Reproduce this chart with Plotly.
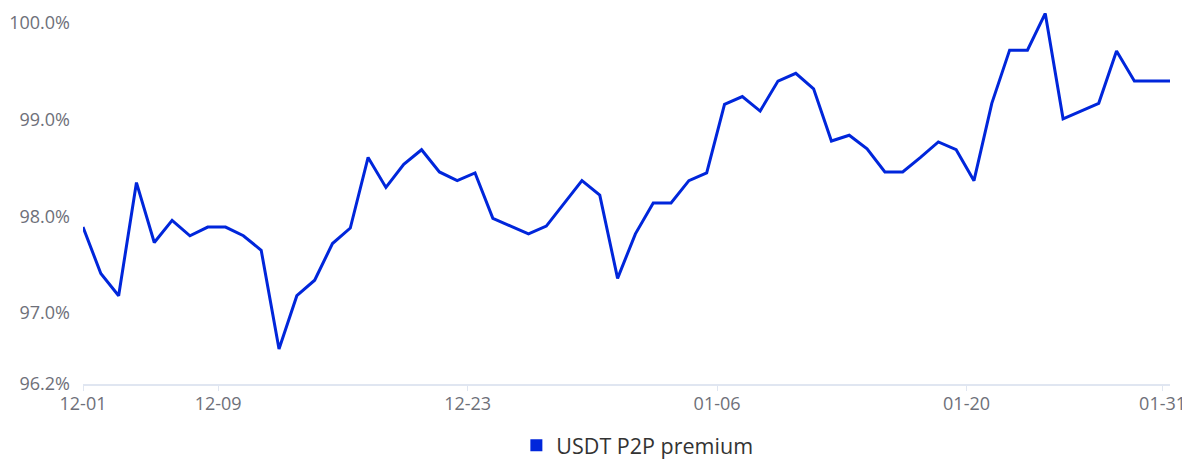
import pandas as pd
import plotly.graph_objects as go

# daily readings, 12-01 .. 01-31 (one per day, around 10:00)
dates = pd.date_range("2024-12-01 10:00", periods=62, freq="D")

premium = [
    97.89, 97.41, 97.18, 98.35, 97.73, 97.96, 97.80, 97.89, 97.89, 97.80,
    97.65, 96.63, 97.18, 97.34, 97.72, 97.88, 98.61, 98.30, 98.54, 98.69,
    98.46, 98.37, 98.45, 97.98, 97.90, 97.82, 97.90, 98.14, 98.37, 98.22,
    97.36, 97.82, 98.14, 98.14, 98.37, 98.45, 99.16, 99.24, 99.09, 99.40,
    99.48, 99.32, 98.78, 98.84, 98.70, 98.46, 98.46, 98.61, 98.77, 98.69,
    98.37, 99.17, 99.72, 99.72, 100.10, 99.01, 99.09, 99.17, 99.71, 99.40,
    99.40, 99.40,
]

series_name = "USDT P2P premium"

x_tick_vals = ["2024-12-01 10:00", "2024-12-09", "2024-12-23", "2025-01-06", "2025-01-20", "2025-01-31"]
x_tick_text = ["12-01", "12-09", "12-23", "01-06", "01-20", "01-31"]

y_min, y_max = 96.267, 100.104
y_tick_vals = [96.267, 97.0, 98.0, 99.0, 100.0]
y_tick_text = ["96.2%", "97.0%", "98.0%", "99.0%", "100.0%"]

blue = "#0026DB"
label_col = "#6E7079"

fig = go.Figure()
fig.add_trace(go.Scatter(x=dates, y=premium, mode="lines", name=series_name,
                         line=dict(color=blue, width=3), showlegend=False))
# legend entry drawn as a square, like the original
fig.add_trace(go.Scatter(x=[None], y=[None], mode="markers", name=series_name,
                         marker=dict(color=blue, symbol="square", size=11)))

# page body keeps an 8px margin, so the figure is 8px smaller each way
fig.update_layout(
    width=1182, height=460,
    margin=dict(l=75, r=20, t=5, b=84, autoexpand=False),
    plot_bgcolor="white", paper_bgcolor="white",
    font=dict(family="Open Sans", size=18, color=label_col),
    showlegend=True,
    legend=dict(orientation="h", x=0.51, xanchor="center", y=-0.11, yanchor="top",
                font=dict(size=21.5, color="#333333"), itemsizing="constant"),
)
fig.update_xaxes(
    type="date", range=[dates[0], dates[-1]],
    tickvals=x_tick_vals, ticktext=x_tick_text,
    showgrid=False, showline=True, linecolor="#E0E6F1", linewidth=1.5,
    ticks="outside", ticklen=5, tickcolor="#E0E6F1", ticklabelstandoff=-2,
    zeroline=False, automargin=False,
)
fig.update_yaxes(
    range=[y_min, y_max], tickvals=y_tick_vals, ticktext=y_tick_text,
    showgrid=False, showline=False, zeroline=False, ticks="", ticklabelstandoff=12,
    automargin=False,
)

fig.write_html("out.html")
